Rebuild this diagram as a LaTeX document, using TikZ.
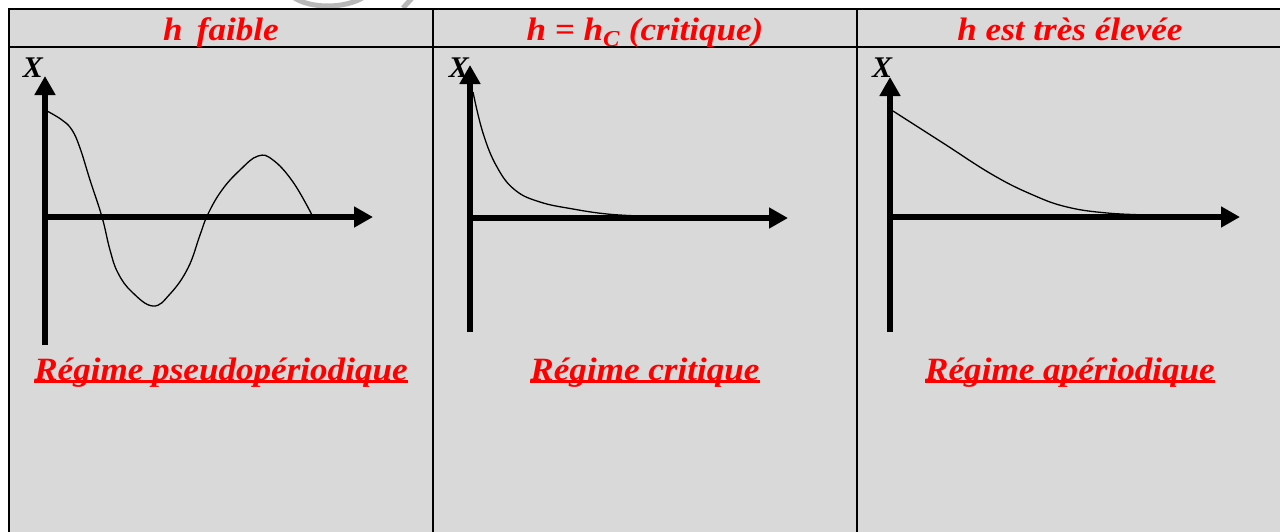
\documentclass[tikz,border=0pt]{standalone}
\usepackage{fontspec}
\setmainfont{Liberation Serif}
\newfontfamily\labelfont[FakeStretch=1.08]{Liberation Serif}
\usetikzlibrary{arrows.meta}
\definecolor{cellgray}{HTML}{D9D9D9}
\definecolor{markgray}{HTML}{B8B8B8}
\begin{document}
\begin{tikzpicture}[x=1pt,y=-1pt,
  every node/.style={font=\bfseries\itshape\fontsize{30}{36}\selectfont,inner sep=0pt},
  head/.style={text=red,anchor=base,font=\labelfont\bfseries\itshape\fontsize{32.5}{38}\selectfont},
  regime/.style={text=red,anchor=base,font=\labelfont\bfseries\itshape\fontsize{32.5}{38}\selectfont},
  axis/.style={line width=5.5pt,-{Triangle[length=19pt,width=20pt]}},
  grid/.style={line width=2pt},
  curve/.style={line width=1.3pt}]
\useasboundingbox (0,0) rectangle (1280,531);
\fill[cellgray] (9,9) rectangle (1283,540);
\draw[markgray,line width=5pt] (293,-3) .. controls (310,9) and (345,9) .. (364,-3);
\draw[markgray,line width=5pt] (413,-3) -- (403,8);
\draw[grid] (9,540) -- (9,9) -- (1283,9) -- (1283,540);
\draw[grid] (9,47) -- (1283,47);
\draw[grid] (433,9) -- (433,540);
\draw[grid] (857,9) -- (857,540);
\node[head] (h1) at (221,40) {h\, faible};
\node[head] (h2) at (645,40) {h = h\textsubscript{C} (critique)};
\node[head] (h3) at (1070,40) {h est très élevée};
\coordinate (b1) at (45,345);
\coordinate (o1) at (45,217);
\coordinate (t1) at (45,76);
\coordinate (e1) at (373,217);
\coordinate (b2) at (470,332);
\coordinate (o2) at (470,218);
\coordinate (t2) at (470,65);
\coordinate (e2) at (788,218);
\coordinate (b3) at (890,332);
\coordinate (o3) at (890,217);
\coordinate (t3) at (890,77);
\coordinate (e3) at (1240,217);
\draw[axis] (b1) -- (t1);
\draw[axis] ([xshift=-2.75pt]o1) -- (e1);
\draw[axis] (b2) -- (t2);
\draw[axis] ([xshift=-2.75pt]o2) -- (e2);
\draw[axis] (b3) -- (t3);
\draw[axis] ([xshift=-2.75pt]o3) -- (e3);
\node (x1) at (33,68) {X};
\node (x2) at (459,68) {X};
\node (x3) at (882,68) {X};
\draw[curve] plot[smooth,tension=0.7] coordinates {(47,111) (62,120) (72,130) (80,148) (90,180) (102,217) (110,250) (118,273) (132,292) (153,306) (170,294) (188,268) (200,235) (208,214) (222,190) (240,170) (258,156) (273,160) (293,182) (312,215)};
\draw[curve] plot[smooth,tension=0.7] coordinates {(473,92) (483,133) (497,167) (515,190) (540,202) (573,209) (607,214) (640,216)};
\draw[curve] plot[smooth,tension=0.7] coordinates {(893,111) (943,143) (993,175) (1033,195) (1067,207) (1107,213) (1150,215)};
\node[regime] (r1) at (221,380) {Régime pseudopériodique};
\node[regime] (r2) at (645,380) {Régime critique};
\node[regime] (r3) at (1070,380) {Régime apériodique};
\draw[red,line width=3pt] ([yshift=-1.8pt]r1.base west) -- ([yshift=-1.8pt]r1.base east);
\draw[red,line width=3pt] ([yshift=-1.8pt]r2.base west) -- ([yshift=-1.8pt]r2.base east);
\draw[red,line width=3pt] ([yshift=-1.8pt]r3.base west) -- ([yshift=-1.8pt]r3.base east);
\end{tikzpicture}
\end{document}
